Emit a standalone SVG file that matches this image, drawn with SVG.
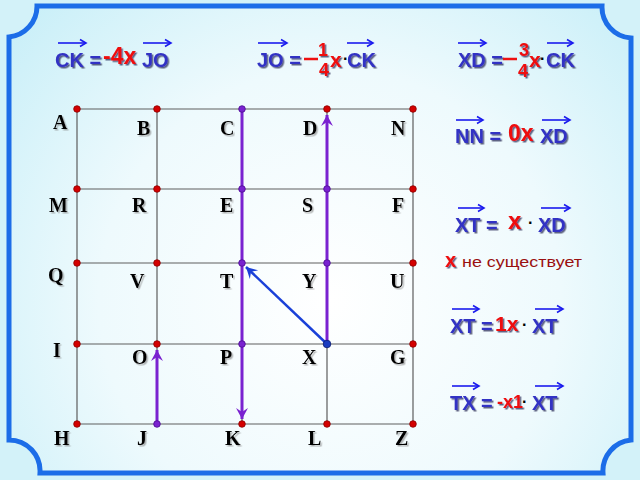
<svg xmlns="http://www.w3.org/2000/svg" width="640" height="480" viewBox="0 0 640 480">
<defs>
<radialGradient id="bg" cx="330" cy="300" r="420" gradientUnits="userSpaceOnUse">
<stop offset="0" stop-color="#ffffff"/>
<stop offset="0.55" stop-color="#eefafd"/>
<stop offset="1" stop-color="#c9eff8"/>
</radialGradient>
<filter id="sh" x="-20%" y="-20%" width="140%" height="140%">
<feDropShadow dx="1.5" dy="1.5" stdDeviation="0.6" flood-color="#000030" flood-opacity="0.6"/>
</filter>
<filter id="shl" x="-20%" y="-20%" width="140%" height="140%">
<feDropShadow dx="1.5" dy="1.5" stdDeviation="0.6" flood-color="#808080" flood-opacity="0.6"/>
</filter>
<marker id="mp" markerUnits="userSpaceOnUse" markerWidth="14" markerHeight="14" viewBox="-12 -7 14 14" refX="0" refY="0" orient="auto">
<path d="M0,0 L-11,-6 L-7,0 L-11,6 Z" fill="#7a22d0"/>
</marker>
<marker id="mb" markerUnits="userSpaceOnUse" markerWidth="14" markerHeight="14" viewBox="-12 -7 14 14" refX="0" refY="0" orient="auto">
<path d="M0,0 L-11,-6 L-7,0 L-11,6 Z" fill="#1a40d8"/>
</marker>
<marker id="ma" markerUnits="userSpaceOnUse" markerWidth="10" markerHeight="10" viewBox="-8 -5 10 10" refX="0" refY="0" orient="auto">
<path d="M-6,-3.5 L0,0 L-6,3.5" fill="none" stroke="#1a1aee" stroke-width="1.6"/>
</marker>
</defs>
<style>
.lbl{font-family:"Liberation Serif","Times New Roman",serif;font-weight:bold;font-size:20px;fill:#000;filter:url(#shl)}
.v{font-family:"Liberation Sans",Arial,sans-serif;font-weight:bold;font-size:20px;fill:#3333c4;filter:url(#sh)}
.r{font-family:"Liberation Sans",Arial,sans-serif;font-weight:bold;fill:#ee1111;filter:url(#sh)}
.dot{font-family:"Liberation Sans",Arial,sans-serif;font-weight:bold;font-size:16px;fill:#000}
.ov{stroke:#1a1aee;stroke-width:1.6;fill:none;marker-end:url(#ma)}
.grid{stroke:#5e5e5e;stroke-width:1.2;fill:none}
.pr{fill:#d40000;stroke:#8a0000;stroke-width:0.8}
.pp{fill:#7a22d0;stroke:#4a0a90;stroke-width:0.8}
.pb{fill:#1a3cc0;stroke:#0a1a70;stroke-width:0.8}
</style>
<rect width="640" height="480" fill="#d3f2f9"/>
<path id="frame" d="M37,6 L602,6 A31,31 0 0 0 631,38 L631,440 A31,31 0 0 0 603,473 L40,473 A31,31 0 0 0 9,440 L9,37 A31,31 0 0 0 37,6 Z" fill="url(#bg)" stroke="#1c6de8" stroke-width="5"/>

<g id="grid">
<path class="grid" d="M77,109 H413 M77,189 H413 M77,263 H413 M77,344 H413 M77,424 H413 M77,109 V424 M157,109 V424 M242,109 V424 M327,109 V424 M413,109 V424"/>
</g>

<g id="connectors">
<line x1="242" y1="109" x2="242" y2="419" stroke="#7a22d0" stroke-width="3" marker-end="url(#mp)"/>
<line x1="157" y1="424" x2="157" y2="350" stroke="#7a22d0" stroke-width="3" marker-end="url(#mp)"/>
<line x1="327" y1="344" x2="327" y2="115" stroke="#7a22d0" stroke-width="3" marker-end="url(#mp)"/>
<line x1="327" y1="344" x2="246" y2="267" stroke="#1a40d8" stroke-width="2.5" marker-end="url(#mb)"/>
</g>

<g id="points">
<circle class="pr" cx="77" cy="109" r="3.3"/><circle class="pr" cx="157" cy="109" r="3.3"/><circle class="pp" cx="242" cy="109" r="3.3"/><circle class="pr" cx="327" cy="109" r="3.3"/><circle class="pr" cx="413" cy="109" r="3.3"/>
<circle class="pr" cx="77" cy="189" r="3.3"/><circle class="pr" cx="157" cy="189" r="3.3"/><circle class="pp" cx="242" cy="189" r="3.3"/><circle class="pp" cx="327" cy="189" r="3.3"/><circle class="pr" cx="413" cy="189" r="3.3"/>
<circle class="pr" cx="77" cy="263" r="3.3"/><circle class="pr" cx="157" cy="263" r="3.3"/><circle class="pp" cx="242" cy="263" r="3.3"/><circle class="pp" cx="327" cy="263" r="3.3"/><circle class="pr" cx="413" cy="263" r="3.3"/>
<circle class="pr" cx="77" cy="344" r="3.3"/><circle class="pr" cx="157" cy="344" r="3.3"/><circle class="pp" cx="242" cy="344" r="3.3"/><circle class="pb" cx="327" cy="344" r="3.8"/><circle class="pr" cx="413" cy="344" r="3.3"/>
<circle class="pr" cx="77" cy="424" r="3.3"/><circle class="pp" cx="157" cy="424" r="3.3"/><circle class="pr" cx="242" cy="424" r="3.3"/><circle class="pr" cx="327" cy="424" r="3.3"/><circle class="pr" cx="413" cy="424" r="3.3"/>
</g>

<g id="labels">
<g id="nA"><text class="lbl" x="53" y="129">A</text></g>
<g id="nB"><text class="lbl" x="137" y="135">B</text></g>
<g id="nC"><text class="lbl" x="220" y="135">C</text></g>
<g id="nD"><text class="lbl" x="303" y="135">D</text></g>
<g id="nN"><text class="lbl" x="391" y="135">N</text></g>
<g id="nM"><text class="lbl" x="49" y="212">M</text></g>
<g id="nR"><text class="lbl" x="132" y="212">R</text></g>
<g id="nE"><text class="lbl" x="220" y="212">E</text></g>
<g id="nS"><text class="lbl" x="302" y="212">S</text></g>
<g id="nF"><text class="lbl" x="392" y="212">F</text></g>
<g id="nQ"><text class="lbl" x="48" y="282">Q</text></g>
<g id="nV"><text class="lbl" x="130" y="288">V</text></g>
<g id="nT"><text class="lbl" x="220" y="288">T</text></g>
<g id="nY"><text class="lbl" x="302" y="288">Y</text></g>
<g id="nU"><text class="lbl" x="390" y="288">U</text></g>
<g id="nI"><text class="lbl" x="53" y="357">I</text></g>
<g id="nO"><text class="lbl" x="132" y="364">O</text></g>
<g id="nP"><text class="lbl" x="220" y="364">P</text></g>
<g id="nX"><text class="lbl" x="302" y="364">X</text></g>
<g id="nG"><text class="lbl" x="390" y="364">G</text></g>
<g id="nH"><text class="lbl" x="54" y="445">H</text></g>
<g id="nJ"><text class="lbl" x="137" y="445">J</text></g>
<g id="nK"><text class="lbl" x="225" y="445">K</text></g>
<g id="nL"><text class="lbl" x="308" y="445">L</text></g>
<g id="nZ"><text class="lbl" x="395" y="445">Z</text></g>
</g>

<g id="eq1">
<text class="v" x="55" y="67">CK =</text>
<text class="r" x="103" y="64" font-size="23">-4x</text>
<text class="v" x="142" y="67">JO</text>
<line class="ov" x1="58" y1="43" x2="86" y2="43"/>
<line class="ov" x1="143" y1="43" x2="171" y2="43"/>
</g>

<g id="eq2">
<text class="v" x="257" y="67">JO =</text>
<line x1="304" y1="59" x2="318" y2="59" stroke="#ee1111" stroke-width="2.5"/>
<text class="r" x="318" y="56" font-size="18">1</text>
<text class="r" x="319" y="76" font-size="18">4</text>
<text class="r" x="330" y="67" font-size="21">x</text>
<text class="dot" x="343" y="64" font-size="12">·</text>
<text class="v" x="347" y="67">CK</text>
<line class="ov" x1="258" y1="43" x2="287" y2="43"/>
<line class="ov" x1="347" y1="43" x2="373" y2="43"/>
</g>

<g id="eq3">
<text class="v" x="458" y="67">XD =</text>
<line x1="503" y1="59" x2="517" y2="59" stroke="#ee1111" stroke-width="2.5"/>
<text class="r" x="519" y="56" font-size="18">3</text>
<text class="r" x="518" y="77" font-size="18">4</text>
<text class="r" x="529" y="67" font-size="21">x</text>
<text class="dot" x="540" y="64" font-size="11">·</text>
<text class="v" x="546" y="67">CK</text>
<line class="ov" x1="458" y1="43" x2="486" y2="43"/>
<line class="ov" x1="547" y1="43" x2="573" y2="43"/>
</g>

<g id="eq4">
<text class="v" x="455" y="143">NN =</text>
<text class="r" x="508" y="141" font-size="23">0x</text>
<text class="v" x="540" y="143">XD</text>
<line class="ov" x1="456" y1="120" x2="483" y2="120"/>
<line class="ov" x1="542" y1="120" x2="570" y2="120"/>
</g>

<g id="eq5">
<text class="v" x="455" y="232">XT =</text>
<text class="r" x="508" y="229" font-size="24">x</text>
<text class="dot" x="528" y="228">·</text>
<text class="v" x="538" y="232">XD</text>
<line class="ov" x1="458" y1="208" x2="484" y2="208"/>
<line class="ov" x1="541" y1="208" x2="570" y2="208"/>
<text class="r" x="445" y="267" font-size="20">x</text>
<text x="462" y="267" font-family="Liberation Sans, Arial, sans-serif" font-size="15" fill="#9a1010" textLength="120" lengthAdjust="spacingAndGlyphs">не существует</text>
</g>

<g id="eq6">
<text class="v" x="450" y="333">XT =</text>
<text class="r" x="495" y="331" font-size="21">1x</text>
<text class="dot" x="522" y="330">·</text>
<text class="v" x="532" y="333">XT</text>
<line class="ov" x1="452" y1="309" x2="479" y2="309"/>
<line class="ov" x1="535" y1="309" x2="563" y2="309"/>
</g>

<g id="eq7">
<text class="v" x="450" y="410">TX =</text>
<text class="r" x="497" y="408" font-size="18">-x1</text>
<text class="dot" x="522" y="407">·</text>
<text class="v" x="532" y="410">XT</text>
<line class="ov" x1="452" y1="386" x2="479" y2="386"/>
<line class="ov" x1="535" y1="386" x2="563" y2="386"/>
</g>
</svg>
